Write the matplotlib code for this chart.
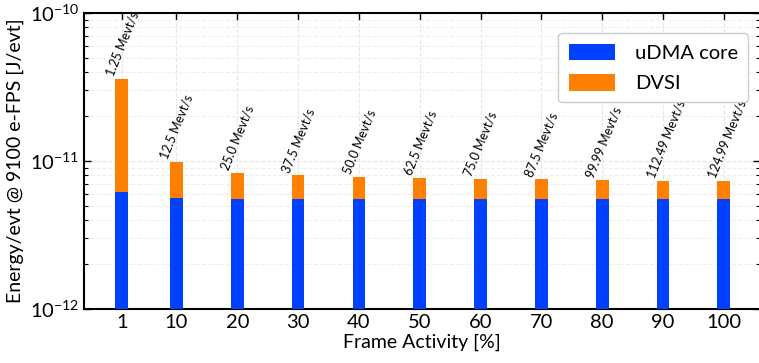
# energy per event vs frame activity, stacked uDMA core + DVSI

import matplotlib
matplotlib.use("Agg")
import matplotlib.pyplot as plt

activity = [1, 10, 20, 30, 40, 50, 60, 70, 80, 90, 100]
udma = [6.2e-12, 5.65e-12, 5.55e-12, 5.55e-12, 5.55e-12, 5.55e-12,
        5.55e-12, 5.55e-12, 5.55e-12, 5.55e-12, 5.55e-12]
total = [3.6e-11, 9.9e-12, 8.35e-12, 7.98e-12, 7.8e-12, 7.7e-12,
         7.6e-12, 7.5e-12, 7.4e-12, 7.3e-12, 7.3e-12]
dvsi = [t - u for t, u in zip(total, udma)]
rates = ['1.25', '12.5', '25.0', '37.5', '50.0', '62.5', '75.0', '87.5',
         '99.99', '112.49', '124.99']

plt.rcParams['font.family'] = ['Lato', 'DejaVu Sans']
plt.rcParams['mathtext.fontset'] = 'custom'
plt.rcParams['mathtext.rm'] = 'Lato'

fig = plt.figure(figsize=(7.59, 3.63), dpi=100)
ax = fig.add_axes([0.1107, 0.149, 0.891, 0.815])

ax.bar(activity, udma, width=2.1, color='#0040ff', label='uDMA core', zorder=3)
ax.bar(activity, dvsi, width=2.1, bottom=udma, color='#ff7f00', label='DVSI', zorder=3)

for x, t, r in zip(activity, total, rates):
    ax.text(x - 1.1, t * 1.02, r + ' Mevt/s', rotation=68, rotation_mode='anchor',
            ha='left', va='bottom', fontsize=9)

ax.set_yscale('log')
ax.set_ylim(1e-12, 1e-10)
ax.set_xlim(-5.2, 106)
ax.set_xticks(activity)
ax.set_xticklabels([str(a) for a in activity])
ax.tick_params(axis='both', which='both', direction='in', top=True, right=True,
               labelsize=14.5)
ax.tick_params(axis='x', which='minor', top=False, bottom=False)
ax.tick_params(which='major', length=5, width=1)
ax.tick_params(which='minor', length=3, width=0.8)
ax.grid(True, which='major', linestyle='--', color='#e6e6e6', linewidth=0.8, zorder=0)
ax.grid(True, which='minor', axis='y', linestyle='--', color='#eeeeee', linewidth=0.8, zorder=0)
for s in ax.spines.values():
    s.set_linewidth(1.5)

ax.set_xlabel('Frame Activity [%]', fontsize=14, labelpad=2)
ax.set_ylabel('Energy/evt @ 9100 e-FPS [J/evt]', fontsize=14, labelpad=4)

ax.legend(loc='upper right', fontsize=14.5, handlelength=2.3, handleheight=0.9,
          borderpad=0.5, labelspacing=0.6, handletextpad=1.0, fancybox=True,
          framealpha=1, edgecolor='#cccccc', bbox_to_anchor=(0.997, 0.965))

fig.savefig('out.png', dpi=100)
